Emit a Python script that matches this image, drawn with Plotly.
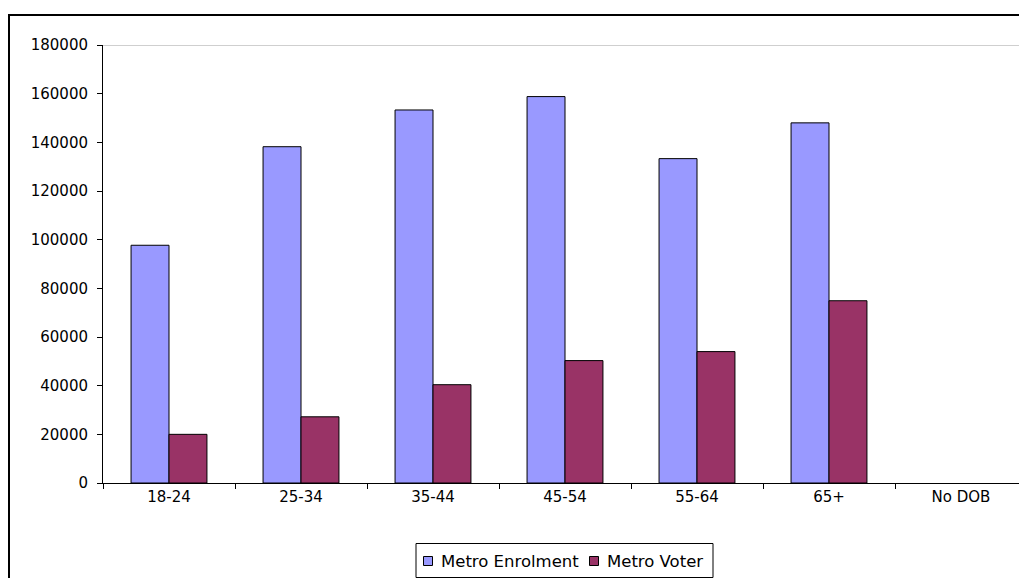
import plotly.graph_objects as go

categories = ["18-24", "25-34", "35-44", "45-54", "55-64", "65+", "No DOB"]
enrolment = [97700, 138200, 153300, 158800, 133300, 148000, None]
voter = [20000, 27200, 40400, 50300, 54000, 74900, None]
y_ticks = [0, 20000, 40000, 60000, 80000, 100000, 120000, 140000, 160000, 180000]
series_names = ["Metro Enrolment", "Metro Voter"]
series_colors = ["#9999FF", "#993366"]

FONT = "DejaVu Sans, Liberation Sans, Arial, sans-serif"

W, H = 1019, 570
ML, MR, MT, MB = 95, 0, 37, 95
PW, PH = W - ML - MR, H - MT - MB


def px(x):
    return (x - ML) / PW


def py(y):
    return (MT + PH - y) / PH


fig = go.Figure()
for name, vals, col in zip(series_names, [enrolment, voter], series_colors):
    fig.add_trace(go.Bar(x=categories, y=vals, name=name, showlegend=False,
                         marker=dict(color=col, line=dict(color="#000000", width=1))))

shapes = [
    dict(type="line", xref="paper", yref="y", x0=0, x1=1, y0=180000, y1=180000,
         line=dict(color="#A0A0A0", width=1)),
    dict(type="rect", xref="paper", yref="paper",
         x0=px(1), x1=1.2, y0=-0.5, y1=py(7),
         line=dict(color="#000000", width=2), layer="below"),
    # legend box
    dict(type="rect", xref="paper", yref="paper",
         x0=px(408), x1=px(705), y0=py(569.5), y1=py(535.5),
         line=dict(color="#000000", width=1), fillcolor="white"),
]
annotations = []
sq_x = [415.5, 581.5]
tx_x = [431, 597]
for name, col, sx, tx in zip(series_names, series_colors, sq_x, tx_x):
    shapes.append(dict(type="rect", xref="paper", yref="paper",
                       x0=px(sx), x1=px(sx + 9), y0=py(557.5), y1=py(548.5),
                       line=dict(color="#000000", width=1), fillcolor=col))
    annotations.append(dict(xref="paper", yref="paper", x=px(tx), y=py(553),
                            xanchor="left", yanchor="middle", text=name, showarrow=False,
                            font=dict(size=16.5, family=FONT, color="#000000")))

fig.update_layout(
    width=W, height=H,
    margin=dict(l=ML, r=MR, t=MT, b=MB),
    paper_bgcolor="white", plot_bgcolor="white",
    barmode="group", bargap=0.425, bargroupgap=0,
    font=dict(family=FONT, size=15, color="#000000"),
    showlegend=False,
    xaxis=dict(showline=True, linecolor="#000000", linewidth=1, ticks="outside",
               tickson="boundaries", ticklen=5, tickcolor="#000000", showgrid=False,
               tickfont=dict(size=15)),
    yaxis=dict(range=[0, 180000], tickvals=y_ticks, ticktext=[str(v) for v in y_ticks],
               showline=True, linecolor="#000000", linewidth=1, ticks="outside",
               ticklen=5, tickcolor="#000000", showgrid=False, zeroline=False,
               ticklabelstandoff=6, tickfont=dict(size=15)),
    shapes=shapes,
    annotations=annotations,
)

fig.write_html("out.html")
